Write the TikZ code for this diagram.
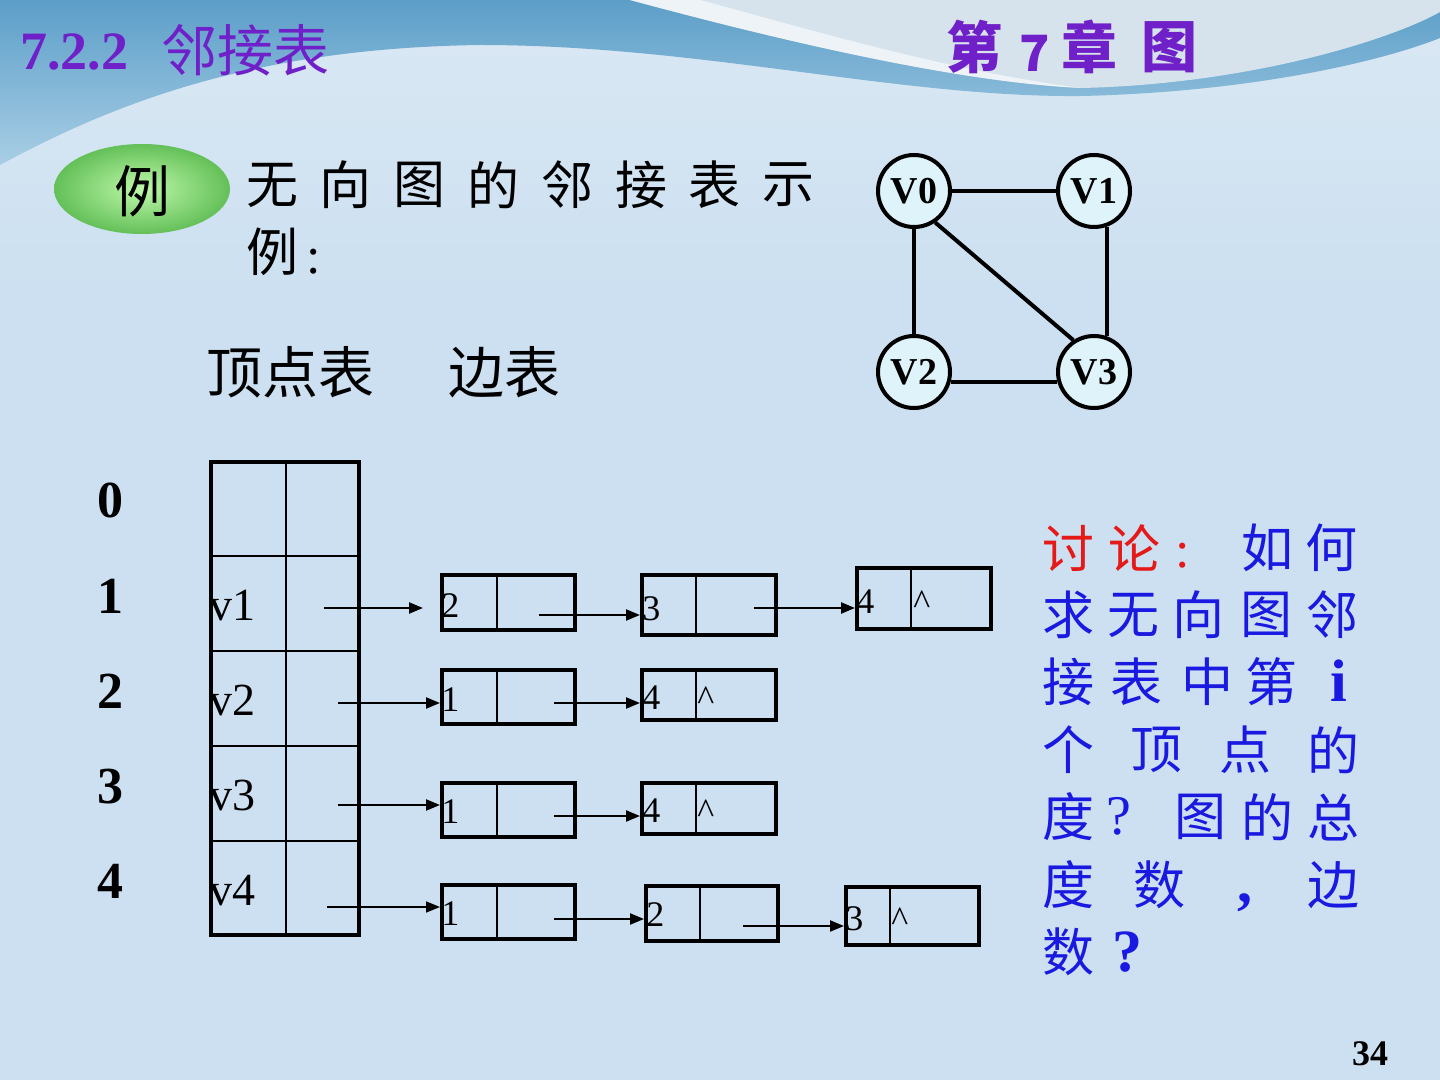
\documentclass[tikz,border=0pt]{standalone}
\usepackage{fontspec}
\setmainfont{Liberation Serif}
\newfontfamily\cjk{Noto Sans CJK SC}
\usetikzlibrary{arrows.meta,shapes.geometric,fit}
\definecolor{bgc}{RGB}{204,224,241}
\definecolor{bgpale}{RGB}{218,232,243}
\definecolor{bandtop}{RGB}{92,158,200}
\definecolor{bandbot}{RGB}{168,206,229}
\definecolor{pale}{RGB}{214,227,237}
\definecolor{purp}{RGB}{112,32,200}
\definecolor{txtblue}{RGB}{25,25,225}
\definecolor{txtred}{RGB}{230,25,25}
\definecolor{gfill}{RGB}{222,244,250}
\definecolor{grlight}{RGB}{190,248,170}
\definecolor{grdark}{RGB}{100,192,88}
\tikzset{
  cj/.style={inner sep=0, font=\cjk\fontsize{26}{26}\selectfont},
  rt/.style={cj, text=txtblue},
  rr/.style={cj, text=txtred},
  gnode/.style={circle, draw, line width=2pt, fill=gfill, minimum size=36pt, inner sep=0,
    font=\bfseries\fontsize{19}{19}\selectfont},
  gedge/.style={line width=2pt},
  tblin/.style={line width=1pt},
  lbox/.style={draw, line width=2pt, inner sep=0},
  ldiv/.style={line width=1pt},
  arr/.style={line width=1.1pt, -{Triangle[length=7pt,width=5.5pt]}},
  dig/.style={inner sep=0, anchor=base west, font=\fontsize{18}{18}\selectfont},
  vlab/.style={inner sep=0, anchor=base west, font=\fontsize{23}{23}\selectfont},
  idx/.style={inner sep=0, anchor=base, font=\bfseries\fontsize{26}{26}\selectfont},
}
\newcommand\lbx[6]{%
  \node[lbox, fit={(#2,#3) (#4,#5)}] (#1) {};
  \draw[ldiv] (#6,#3) -- (#6,#5);}
\begin{document}
\begin{tikzpicture}[x=0.5pt,y=-0.5pt]
\useasboundingbox (0,0) rectangle (1440,1080);
% background
\fill[bgc] (0,0) rectangle (1440,1080);
\shade[top color=bgpale, bottom color=bgc] (0,0) rectangle (1440,300);
\shade[top color=bandtop, bottom color=bandbot]
  (0,0) -- (0,165) .. controls (120,100) and (260,48) .. (480,45)
  .. controls (700,45) and (900,98) .. (1082,96)
  .. controls (1250,92) and (1380,62) .. (1440,38) -- (1440,0) -- cycle;
\fill[pale] (630,0) .. controls (760,35) and (950,82) .. (1082,88)
  .. controls (1250,84) and (1390,40) .. (1440,12) -- (1440,0) -- cycle;
\fill[white, opacity=0.6] (630,0) .. controls (760,35) and (950,82) .. (1082,88)
  .. controls (950,72) and (790,24) .. (700,0) -- cycle;
% title
\node[inner sep=0, anchor=base west, text=purp, font=\bfseries\fontsize{27}{27}\selectfont] (tnum) at (20,70) {7.2.2};
\node[inner sep=0, text=purp, font=\cjk\fontsize{28}{28}\selectfont] (tname) at (245,50) {邻接表};
\node[inner sep=0, text=purp, font=\cjk\bfseries\fontsize{28}{28}\selectfont] (ch1) at (974,47) {第};
\node[inner sep=0, text=purp, font=\cjk\bfseries\fontsize{25}{25}\selectfont] (ch2) at (1035,53) {7};
\node[inner sep=0, text=purp, font=\cjk\bfseries\fontsize{28}{28}\selectfont] (ch3) at (1089,47) {章};
\node[inner sep=0, text=purp, font=\cjk\bfseries\fontsize{28}{28}\selectfont] (ch4) at (1169,47) {图};
% example bubble
\node[ellipse, minimum width=88pt, minimum height=45pt, inner sep=0,
  inner color=grlight, outer color=grdark] (ex) at (142,189) {};
\node[inner sep=0, font=\cjk\fontsize{28}{28}\selectfont] (exl) at (142,191) {例};
\foreach \c [count=\i from 0] in {无,向,图,的,邻,接,表,示}
  \node[cj] (w\i) at (272+\i*73.8,185) {\c};
\node[cj] (w8) at (272,252) {例};
\node[inner sep=0, font=\fontsize{26}{26}\selectfont] (w9) at (314,262) {:};
% headers
\node[inner sep=0, anchor=west, font=\cjk\fontsize{28}{28}\selectfont] (hv) at (206,372) {顶点表};
\node[inner sep=0, anchor=west, font=\cjk\fontsize{28}{28}\selectfont] (he) at (448,372) {边表};
% graph
\node[gnode] (V0) at (914,191) {V0};
\node[gnode] (V1) at (1094,191) {V1};
\node[gnode] (V2) at (914,372) {V2};
\node[gnode] (V3) at (1094,372) {V3};
\draw[gedge] (V0) -- (V1);
\draw[gedge] (V0) -- (V2);
\draw[gedge] (V1.-70) -- (V3.70);
\draw[gedge] (V2.-15) -- (V3.195);
\draw[gedge] (V0.-56) -- (V3.123);
% vertex table
\node[lbox, fit={(211,462) (359,935)}] (tab) {};
\draw[tblin] (286,462) -- (286,935);
\foreach \yy in {556,651,746,841} \draw[tblin] (211,\yy) -- (359,\yy);
\node[idx] (i0) at (110,517) {0};
\node[idx] (i1) at (110,613) {1};
\node[idx] (i2) at (110,708) {2};
\node[idx] (i3) at (110,803) {3};
\node[idx] (i4) at (110,898) {4};
\node[vlab] (v1) at (209,620) {v1};
\node[vlab] (v2) at (209,715) {v2};
\node[vlab] (v3) at (209,810) {v3};
\node[vlab] (v4) at (209,905) {v4};
% edge lists
\lbx{a1}{442}{575}{575}{630}{497}
\lbx{b1}{642}{575}{776}{635}{696}
\lbx{c1}{857}{568}{991}{629}{911}
\lbx{a2}{442}{670}{575}{724}{497}
\lbx{b2}{642}{670}{776}{720}{696}
\lbx{a3}{442}{783}{575}{837}{497}
\lbx{b3}{642}{783}{776}{834}{696}
\lbx{a4}{442}{885}{575}{939}{497}
\lbx{b4}{646}{886}{778}{941}{700}
\lbx{c4}{846}{887}{979}{945}{890}
\node[dig] (d11) at (441,617) {2};
\node[dig] (d12) at (642,620) {3};
\node[dig] (d13) at (856,613) {4};
\node[dig] (n13) at (913,614) {\textasciicircum};
\node[dig] (d21) at (441,711) {1};
\node[dig] (d22) at (642,709) {4};
\node[dig] (n22) at (697,710) {\textasciicircum};
\node[dig] (d31) at (441,823) {1};
\node[dig] (d32) at (642,822) {4};
\node[dig] (n32) at (697,823) {\textasciicircum};
\node[dig] (d41) at (441,925) {1};
\node[dig] (d42) at (646,926) {2};
\node[dig] (d43) at (845,930) {3};
\node[dig] (n43) at (891,931) {\textasciicircum};
% arrows
\coordinate (s1) at (324,608); \coordinate (e1) at (423,608);
\draw[arr] (s1) -- (e1);
\coordinate (s2) at (338,703); \draw[arr] (s2) -- (s2 -| a2.west);
\coordinate (s3) at (338,805); \draw[arr] (s3) -- (s3 -| a3.west);
\coordinate (s4) at (327,907); \draw[arr, line width=0.8pt] (s4) -- (s4 -| a4.west);
\coordinate (p1) at (539,615); \draw[arr] (p1) -- (p1 -| b1.west);
\coordinate (q1) at (754,608); \draw[arr] (q1) -- (q1 -| c1.west);
\coordinate (p2) at (554,703); \draw[arr] (p2) -- (p2 -| b2.west);
\coordinate (p3) at (554,816); \draw[arr] (p3) -- (p3 -| b3.west);
\coordinate (p4) at (554,919); \draw[arr] (p4) -- (p4 -| b4.west);
\coordinate (q4) at (743,926); \draw[arr] (q4) -- (q4 -| c4.west);
% discussion text
\node[rr] (r11) at (1068,548) {讨};
\node[rr] (r12) at (1134,548) {论};
\node[inner sep=0, text=txtred, font=\fontsize{26}{26}\selectfont] (r13) at (1183,556) {:};
\node[rt] (r14) at (1267,548) {如};
\node[rt] (r15) at (1331,548) {何};
\node[rt] (r21) at (1068,615) {求};
\node[rt] (r22) at (1133,615) {无};
\node[rt] (r23) at (1198,615) {向};
\node[rt] (r24) at (1266,615) {图};
\node[rt] (r25) at (1332,615) {邻};
\node[rt] (r31) at (1068,682) {接};
\node[rt] (r32) at (1136,682) {表};
\node[rt] (r33) at (1207,682) {中};
\node[rt] (r34) at (1271,682) {第};
\node[inner sep=0, text=txtblue, font=\bfseries\fontsize{30}{30}\selectfont] (r35) at (1339,681) {i};
\node[rt] (r41) at (1068,750) {个};
\node[rt] (r42) at (1156,750) {顶};
\node[rt] (r43) at (1245,750) {点};
\node[rt] (r44) at (1333,750) {的};
\node[rt] (r51) at (1068,817) {度};
\node[inner sep=0, text=txtblue, font=\fontsize{28}{28}\selectfont] (r52) at (1119,816) {?};
\node[rt] (r53) at (1200,817) {图};
\node[rt] (r54) at (1267,817) {的};
\node[rt] (r55) at (1333,817) {总};
\node[rt] (r61) at (1068,885) {度};
\node[rt] (r62) at (1159,885) {数};
\node[inner sep=0, text=txtblue, font=\bfseries\fontsize{30}{30}\selectfont] (r63) at (1245,903) {,};
\node[rt] (r64) at (1333,885) {边};
\node[rt] (r71) at (1068,952) {数};
\node[inner sep=0, text=txtblue, font=\bfseries\fontsize{30}{30}\selectfont] (r72) at (1127,952) {?};
% page number
\node[inner sep=0, anchor=base, font=\bfseries\fontsize{18}{18}\selectfont] (pg) at (1370,1065) {34};
\end{tikzpicture}
\end{document}
